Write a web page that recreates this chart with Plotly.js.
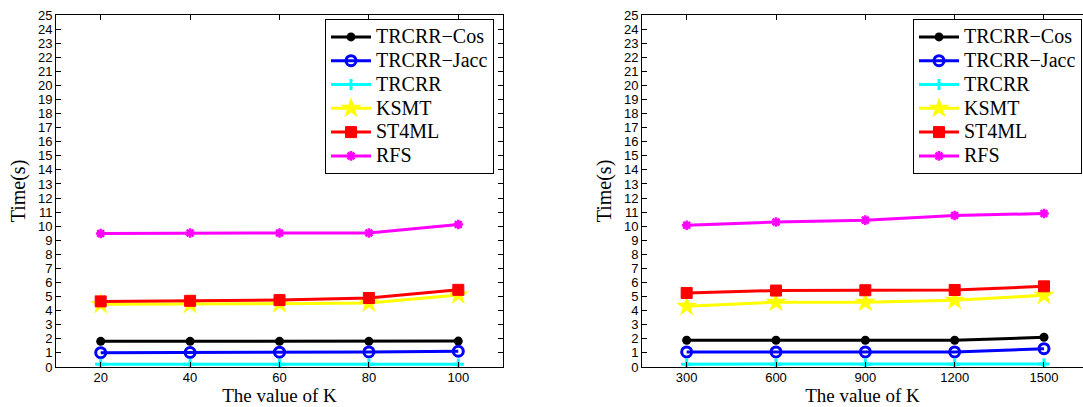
<!DOCTYPE html>
<html>
<head>
<meta charset="utf-8">
<script src="https://cdn.plot.ly/plotly-3.0.1.min.js"></script>
<style>html,body{margin:0;padding:0;background:#fff;overflow:hidden}#chart{width:1083px;height:407px}</style>
</head>
<body>
<div id="chart"></div>
<script>
// ---- data ----
const seriesNames = ["TRCRR\u2212Cos", "TRCRR\u2212Jacc", "TRCRR", "KSMT", "ST4ML", "RFS"];
const kLeft = [20, 40, 60, 80, 100];
const kRight = [300, 600, 900, 1200, 1500];

const leftCos  = [1.82, 1.82, 1.82, 1.82, 1.84];
const leftJacc = [1.02, 1.03, 1.05, 1.07, 1.12];
const leftTRCRR = [0.19, 0.19, 0.19, 0.19, 0.2];
const leftKSMT = [4.45, 4.45, 4.5, 4.55, 5.12];
const leftST4ML = [4.66, 4.7, 4.75, 4.9, 5.48];
const leftRFS = [9.48, 9.52, 9.52, 9.52, 10.12];

const rightCos  = [1.9, 1.9, 1.9, 1.9, 2.11];
const rightJacc = [1.07, 1.07, 1.07, 1.07, 1.3];
const rightTRCRR = [0.2, 0.2, 0.2, 0.2, 0.22];
const rightKSMT = [4.31, 4.6, 4.6, 4.74, 5.09];
const rightST4ML = [5.26, 5.43, 5.45, 5.47, 5.73];
const rightRFS = [10.07, 10.3, 10.43, 10.76, 10.9];

const yTicks = Array.from({length: 26}, (_, i) => i);

// ---- styles ----
const styles = [
  {color: "#000000", marker: {symbol: "circle", size: 9, color: "#000000"}},
  {color: "#0000ff", marker: {symbol: "circle-open", size: 10, color: "#0000ff", line: {width: 3, color: "#0000ff"}}},
  {color: "#00ffff", marker: {symbol: "cross-thin-open", size: 8, color: "#00ffff", line: {width: 3, color: "#00ffff"}}},
  {color: "#ffff00", marker: {symbol: "star", size: 16, color: "#ffff00", line: {width: 0}}},
  {color: "#ff0000", marker: {symbol: "square", size: 11, color: "#ff0000", line: {width: 1, color: "#ff0000"}}},
  {color: "#ff00ff", marker: {symbol: "asterisk-open", size: 8, color: "#ff00ff", line: {width: 2.5, color: "#ff00ff"}}}
];

function makeTraces(xs, ysList, xa, ya, legendName) {
  return ysList.map((ys, i) => ({
    type: "scatter", mode: "lines+markers",
    x: xs, y: ys,
    name: '<span style="font-size:20px">' + seriesNames[i] + '</span>',
    xaxis: xa, yaxis: ya, legend: legendName,
    line: {color: styles[i].color, width: 3},
    marker: styles[i].marker,
    hoverinfo: "x+y"
  }));
}

const traces = [].concat(
  makeTraces(kLeft, [leftCos, leftJacc, leftTRCRR, leftKSMT, leftST4ML, leftRFS], "x", "y", "legend"),
  makeTraces(kRight, [rightCos, rightJacc, rightTRCRR, rightKSMT, rightST4ML, rightRFS], "x2", "y2", "legend2")
);

const W = 1083, H = 407;
const SERIF = '"Liberation Serif", "Times New Roman", Times, serif';
const SANS = '"Liberation Sans", Arial, Helvetica, sans-serif';
const tickFont = {family: SANS, size: 13, color: "#000"};
const yTitleFont = {family: SERIF, size: 20, color: "#000"};
const xTitleFont = {family: SERIF, size: 19, color: "#000"};
const yDom = [(H - 367) / H, (H - 15) / H];

function xAxis(dom, range, vals, anchor) {
  return {
    domain: dom, range: range, tickvals: vals, ticktext: vals.map(String),
    anchor: anchor, showline: true, linecolor: "#000", linewidth: 1, mirror: "ticks",
    ticks: "inside", ticklen: 5, tickcolor: "#000", showgrid: false, zeroline: false,
    tickfont: tickFont, automargin: false, ticklabelstandoff: -2,
    title: {text: "The value of K", font: xTitleFont, standoff: 4}
  };
}
function yAxis(anchor, mirror) {
  return {
    domain: yDom, range: [0, 25], tickvals: yTicks, anchor: anchor,
    showline: true, linecolor: "#000", linewidth: 1, mirror: mirror,
    ticks: "inside", ticklen: 5, tickcolor: "#000", showgrid: false, zeroline: false,
    tickfont: tickFont, automargin: false,
    title: {text: "Time(s)", font: yTitleFont, standoff: 6}
  };
}

const legendCommon = {
  bgcolor: "#fff", bordercolor: "#000", borderwidth: 1,
  font: {family: SERIF, size: 16, color: "#000"},
  yanchor: "top", xanchor: "right", tracegroupgap: 0, itemwidth: 40
};

const layout = {
  width: W, height: H,
  margin: {l: 0, r: 0, t: 0, b: 0},
  paper_bgcolor: "#fff", plot_bgcolor: "#fff",
  showlegend: true,
  xaxis: xAxis([56 / W, 503 / W], [10, 110], kLeft, "y"),
  yaxis: yAxis("x", "ticks"),
  xaxis2: xAxis([642 / W, 1], [150, 1631], kRight, "y2"),
  yaxis2: yAxis("x2", false),
  legend: Object.assign({x: 494 / W, y: (H - 19) / H}, legendCommon),
  legend2: Object.assign({x: 1082 / W, y: (H - 19) / H}, legendCommon)
};

Plotly.newPlot("chart", traces, layout, {displayModeBar: false, responsive: false});
</script>
</body>
</html>
